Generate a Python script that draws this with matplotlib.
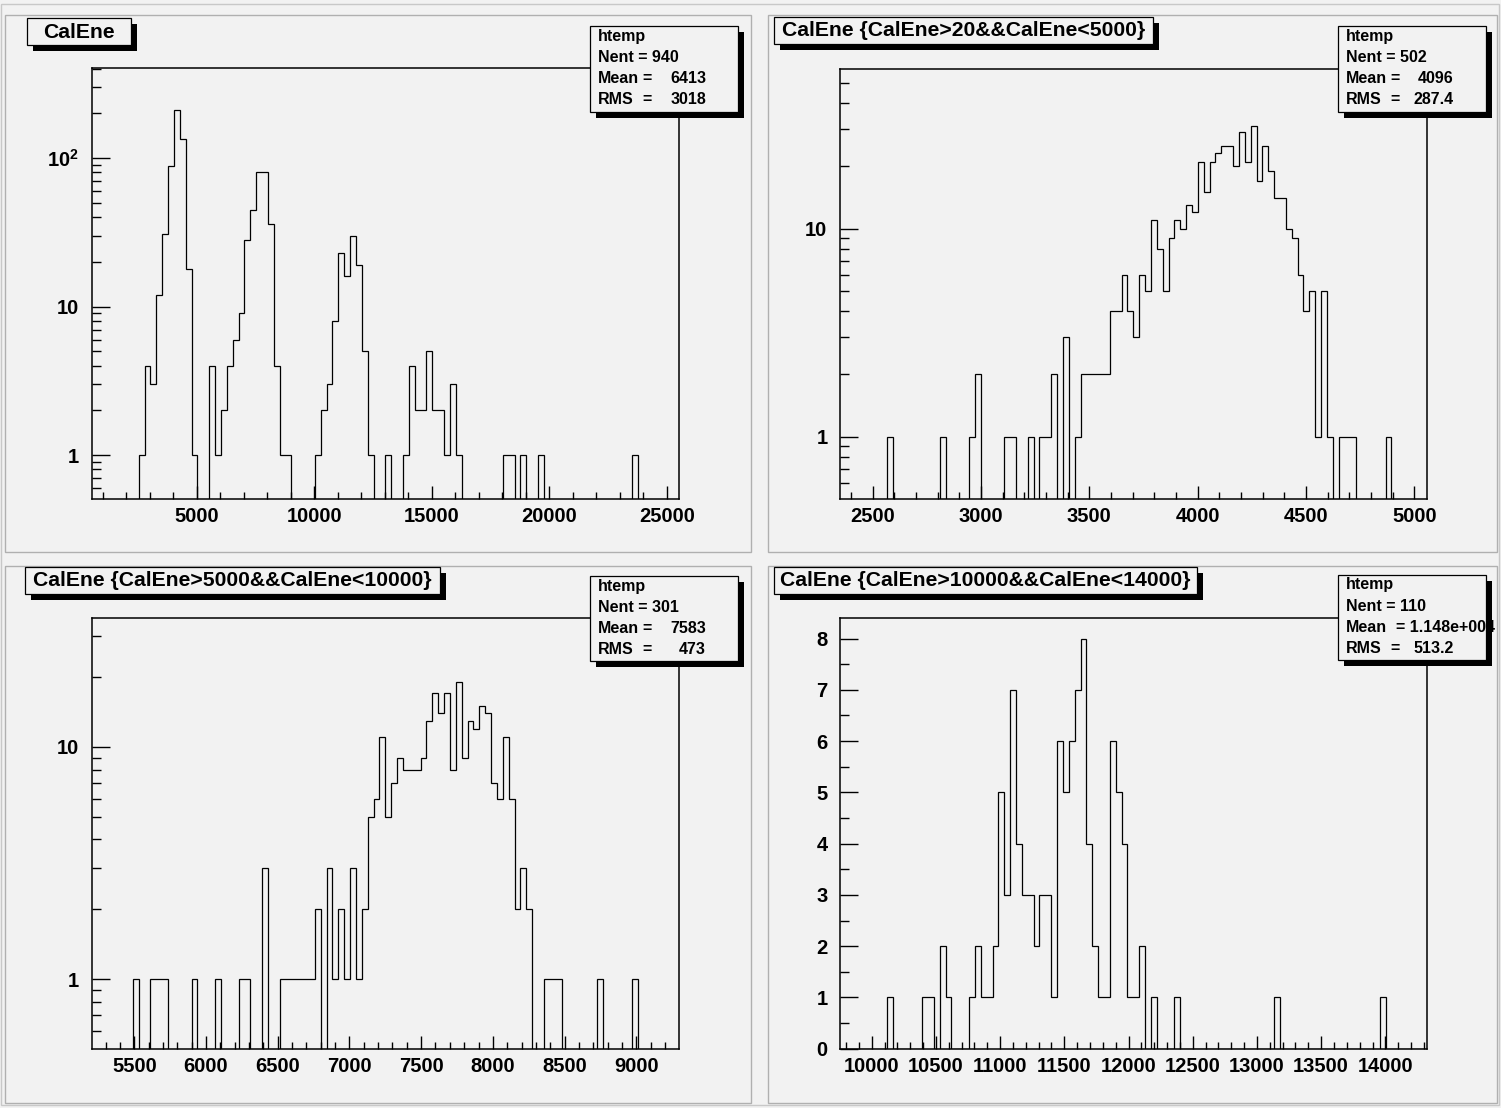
import matplotlib
matplotlib.use('Agg')
import matplotlib.pyplot as plt
import numpy as np
from matplotlib.ticker import (FixedLocator, FixedFormatter, MultipleLocator,
                               LogLocator, NullFormatter)
from matplotlib.patches import Rectangle

plt.rcParams['font.family'] = ['Liberation Sans', 'DejaVu Sans']
plt.rcParams['font.weight'] = 'bold'
plt.rcParams['mathtext.fontset'] = 'custom'
plt.rcParams['mathtext.rm'] = 'Liberation Sans:bold'

BG = '#f2f2f2'

# --- Histogram contents (100 bins each) ---
cal_all_range = (520, 25520)
cal_all = [0, 0, 0, 0, 0, 0, 0, 0, 1, 4, 3, 12, 31, 88, 211, 134, 18, 1, 0, 0,
           4, 1, 2, 4, 6, 9, 28, 45, 81, 81, 36, 4, 1, 1, 0, 0, 0, 0, 1, 2,
           3, 8, 23, 16, 30, 19, 5, 1, 0, 0, 1, 0, 0, 1, 4, 2, 2, 5, 2, 2,
           1, 3, 1, 0, 0, 0, 0, 0, 0, 0, 1, 1, 0, 1, 0, 0, 1, 0, 0, 0,
           0, 0, 0, 0, 0, 0, 0, 0, 0, 0, 0, 0, 1, 0, 0, 0, 0, 0, 0, 0]

cal_lt5000_range = (2350, 5057)
cal_lt5000 = [0, 0, 0, 0, 0, 0, 0, 0, 1, 0, 0, 0, 0, 0, 0, 0, 0, 1, 0, 0,
              0, 0, 1, 2, 0, 0, 0, 0, 1, 1, 0, 0, 1, 0, 1, 1, 2, 0, 3, 0,
              1, 2, 2, 2, 2, 2, 4, 4, 6, 4, 3, 6, 5, 11, 8, 5, 9, 11, 10, 13,
              12, 21, 15, 21, 23, 25, 25, 20, 29, 21, 31, 17, 25, 19, 14, 14, 10, 9, 6, 4,
              5, 1, 5, 1, 0, 1, 1, 1, 0, 0, 0, 0, 0, 1, 0, 0, 0, 0, 0, 0]

cal_5000_10000_range = (5203, 9298)
cal_5000_10000 = [0, 0, 0, 0, 0, 0, 0, 1, 0, 0, 1, 1, 1, 0, 0, 0, 0, 1, 0, 0,
                  0, 1, 0, 0, 0, 1, 1, 0, 0, 3, 0, 0, 1, 1, 1, 1, 1, 1, 2, 0,
                  3, 1, 2, 1, 3, 1, 2, 5, 6, 11, 5, 7, 9, 8, 8, 8, 9, 13, 17, 14,
                  17, 8, 19, 9, 13, 12, 15, 14, 7, 6, 11, 6, 2, 3, 2, 0, 0, 1, 1, 1,
                  0, 0, 0, 0, 0, 0, 1, 0, 0, 0, 0, 0, 1, 0, 0, 0, 0, 0, 0, 0]

cal_10000_14000_range = (9753, 14322)
cal_10000_14000 = [0, 0, 0, 0, 0, 0, 0, 0, 1, 0, 0, 0, 0, 0, 1, 1, 0, 2, 1, 0,
                   0, 0, 1, 2, 1, 1, 2, 5, 3, 7, 4, 3, 3, 2, 3, 3, 1, 6, 5, 6,
                   7, 8, 4, 2, 1, 1, 6, 5, 4, 1, 1, 2, 0, 1, 0, 0, 0, 1, 0, 0,
                   0, 0, 0, 0, 0, 0, 0, 0, 0, 0, 0, 0, 0, 0, 1, 0, 0, 0, 0, 0,
                   0, 0, 0, 0, 0, 0, 0, 0, 0, 0, 0, 0, 1, 0, 0, 0, 0, 0, 0, 0]

titles = ['CalEne',
          'CalEne {CalEne>20&&CalEne<5000}',
          'CalEne {CalEne>5000&&CalEne<10000}',
          'CalEne {CalEne>10000&&CalEne<14000}']
nent = ['940', '502', '301', '110']
means = ['6413', '4096', '7583', '1.148e+004']
rms = ['3018', '287.4', '473', '513.2']

W, H = 1501, 1108
fig = plt.figure(figsize=(W / 100, H / 100), dpi=100, facecolor=BG)


def frac(x0, y0, x1, y1):
    return [x0 / W, 1 - y1 / H, (x1 - x0) / W, (y1 - y0) / H]


# background layer: canvas and pad borders
bg = fig.add_axes([0, 0, 1, 1], zorder=-10)
bg.set_xlim(0, W)
bg.set_ylim(H, 0)
bg.axis('off')
bg.add_patch(Rectangle((1, 4), W - 3, H - 7, fill=False, ec='#c8c8c8', lw=1))
pads = [(5, 15, 751, 552), (768, 15, 1497, 552),
        (5, 566, 751, 1103), (768, 566, 1497, 1103)]
for x0, y0, x1, y1 in pads:
    bg.add_patch(Rectangle((x0, y0), x1 - x0, y1 - y0, fill=False,
                           ec='#b0b0b0', lw=1))

frames = [(91.7, 68, 679, 498.5), (840, 68.5, 1426.7, 498.7),
          (91.7, 618, 679, 1048.7), (840, 618, 1426.7, 1048.7)]
ylims = [(0.51, 404), (0.503, 58.8), (0.503, 35.9), (0, 8.4)]
xmajor = [5000, 500, 500, 500]
xminor = [1000, 100, 100, 100]

data = [(cal_all, cal_all_range), (cal_lt5000, cal_lt5000_range),
        (cal_5000_10000, cal_5000_10000_range),
        (cal_10000_14000, cal_10000_14000_range)]

for i, (counts, (lo, hi)) in enumerate(data):
    ax = fig.add_axes(frac(*frames[i]))
    ax.set_facecolor(BG)
    counts = np.array(counts, dtype=float)
    edges = np.linspace(lo, hi, len(counts) + 1)
    logy = i < 3
    if logy:
        ax.set_yscale('log')
        ax.stairs(np.maximum(counts, 1e-3), edges, baseline=1e-3,
                  color='black', lw=0.9)
    else:
        ax.stairs(counts, edges, baseline=0, color='black', lw=0.9)
    ax.set_xlim(lo, hi)
    ax.set_ylim(*ylims[i])

    ax.xaxis.set_major_locator(MultipleLocator(xmajor[i]))
    ax.xaxis.set_minor_locator(MultipleLocator(xminor[i]))
    if logy:
        if i == 0:
            ax.yaxis.set_major_locator(FixedLocator([1, 10, 100]))
            ax.yaxis.set_major_formatter(FixedFormatter(['1', '10', r'$\mathrm{10^{2}}$']))
        else:
            ax.yaxis.set_major_locator(FixedLocator([1, 10]))
            ax.yaxis.set_major_formatter(FixedFormatter(['1', '10']))
        ax.yaxis.set_minor_locator(LogLocator(base=10, subs=np.arange(2, 10), numticks=20))
        ax.yaxis.set_minor_formatter(NullFormatter())
    else:
        ax.yaxis.set_major_locator(MultipleLocator(1))
        ax.yaxis.set_minor_locator(MultipleLocator(0.5))

    ax.tick_params(axis='x', which='major', direction='in', length=9.4, width=1,
                   labelsize=14.5, pad=6, top=False)
    ax.tick_params(axis='x', which='minor', direction='in', length=4.8, width=1, top=False)
    ax.tick_params(axis='y', which='major', direction='in', length=12.7, width=1,
                   labelsize=14.5, pad=9, right=False)
    ax.tick_params(axis='y', which='minor', direction='in', length=6.5, width=1, right=False)
    for s in ax.spines.values():
        s.set_linewidth(1.1)
    for lab in ax.get_xticklabels() + ax.get_yticklabels():
        lab.set_fontweight('bold')

# overlay layer: title boxes and stats boxes
ov = fig.add_axes([0, 0, 1, 1], zorder=10)
ov.set_xlim(0, W)
ov.set_ylim(H, 0)
ov.axis('off')
ov.patch.set_alpha(0)


def shadow_box(x0, y0, x1, y1):
    ov.add_patch(Rectangle((x0 + 6, y0 + 6), x1 - x0, y1 - y0, fc='black', ec='none'))
    ov.add_patch(Rectangle((x0, y0), x1 - x0, y1 - y0, fc=BG, ec='black', lw=0.9))


title_boxes = [(27, 18, 131, 45), (774, 17, 1153, 44),
               (25, 567, 440, 594), (774, 567, 1197, 594)]
stat_boxes = [(590, 26, 738, 112), (1338, 26, 1486, 112),
              (590, 576, 738, 661), (1338, 575, 1486, 660)]

for i in range(4):
    x0, y0, x1, y1 = title_boxes[i]
    shadow_box(x0, y0, x1, y1)
    ov.text((x0 + x1) / 2, (y0 + y1) / 2 + 0.5, titles[i], ha='center', va='center',
            fontsize=15.2, fontweight='bold')

    x0, y0, x1, y1 = stat_boxes[i]
    shadow_box(x0, y0, x1, y1)
    fs = 11.5
    rows = [y0 + 10 + 21.3 * k for k in range(4)]
    ov.text(x0 + 8, rows[0], 'htemp', ha='left', va='center', fontsize=fs, fontweight='bold')
    ov.text(x0 + 8, rows[1], 'Nent = ' + nent[i], ha='left', va='center', fontsize=fs,
            fontweight='bold')
    for r, name, val in [(rows[2], 'Mean', means[i]), (rows[3], 'RMS', rms[i])]:
        ov.text(x0 + 8, r, name, ha='left', va='center', fontsize=fs, fontweight='bold')
        if len(val) > 6:
            ov.text(x0 + 58, r, '= ' + val, ha='left', va='center', fontsize=fs,
                    fontweight='bold')
        else:
            ov.text(x0 + 57, r, '=', ha='center', va='center', fontsize=fs, fontweight='bold')
            ov.text(x0 + 116, r, val, ha='right', va='center', fontsize=fs, fontweight='bold')

fig.savefig('out.png', dpi=100, facecolor=BG)
